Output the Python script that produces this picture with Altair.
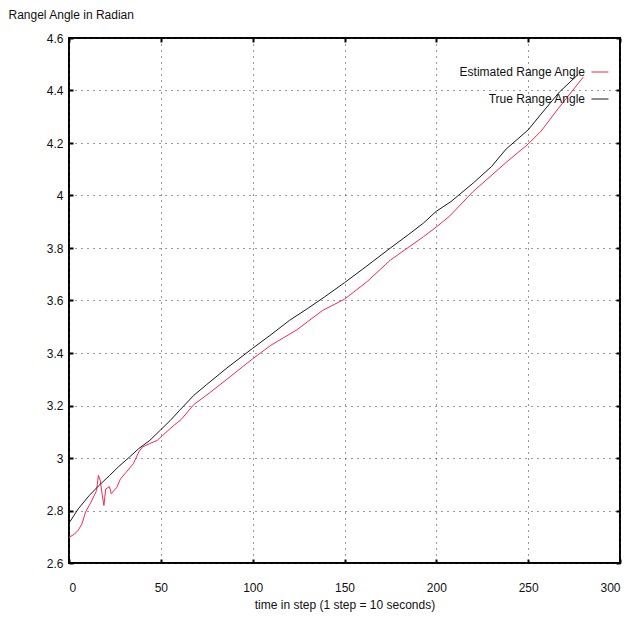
import altair as alt
import pandas as pd

true_steps = [0, 5, 11, 16, 22, 27, 33, 38, 44, 50, 55, 60, 68, 75, 86, 100, 110, 120,
              130, 139, 150, 160, 175, 185, 193, 200, 208, 220, 230, 238, 250, 257, 267, 277]
true_vals = [2.752, 2.806, 2.857, 2.893, 2.933, 2.967, 3.004, 3.036, 3.067, 3.108, 3.142,
             3.180, 3.239, 3.280, 3.343, 3.418, 3.470, 3.524, 3.570, 3.613, 3.668, 3.720,
             3.800, 3.852, 3.895, 3.940, 3.977, 4.047, 4.110, 4.177, 4.250, 4.310, 4.394, 4.460]

est_steps = [0, 3, 5, 7, 9, 12, 15, 16, 17, 18, 19, 20, 22, 23, 26, 28, 31, 35, 38, 40,
             44, 48, 51, 57, 61, 68, 75, 86, 100, 110, 124, 138, 150, 162, 175, 193, 200,
             207, 220, 238, 250, 257, 267, 280]
est_vals = [2.698, 2.710, 2.725, 2.748, 2.794, 2.832, 2.876, 2.934, 2.915, 2.864, 2.819,
            2.882, 2.891, 2.864, 2.888, 2.920, 2.945, 2.978, 3.023, 3.042, 3.055, 3.067,
            3.086, 3.124, 3.146, 3.204, 3.240, 3.300, 3.378, 3.430, 3.488, 3.562, 3.605,
            3.670, 3.754, 3.843, 3.880, 3.920, 4.015, 4.126, 4.196, 4.245, 4.337, 4.451]

series_names = ["Estimated Range Angle", "True Range Angle"]
series_colors = ["#f2294f", "#1a1a1a"]
x_ticks = [0, 50, 100, 150, 200, 250, 300]
y_ticks = [2.6, 2.8, 3.0, 3.2, 3.4, 3.6, 3.8, 4.0, 4.2, 4.4, 4.6]

df = pd.concat([
    pd.DataFrame({"step": est_steps, "angle": est_vals, "series": series_names[0]}),
    pd.DataFrame({"step": true_steps, "angle": true_vals, "series": series_names[1]}),
])

FONT = "Liberation Sans"

xscale = alt.Scale(domain=[0, 300], nice=False, zero=False)
yscale = alt.Scale(domain=[2.6, 4.6], nice=False, zero=False)

main = alt.Chart(df).mark_line(strokeWidth=1, interpolate="linear").encode(
    x=alt.X("step:Q", scale=xscale,
            axis=alt.Axis(values=x_ticks, orient="bottom", offset=-4, tickSize=4,
                          tickWidth=2, tickColor="black", domain=False,
                          grid=True, gridColor="#333333", gridDash=[1, 5], gridWidth=1,
                          labelPadding=19, labelFont=FONT, labelFontSize=12,
                          labelColor="#111111",
                          title="time in step (1 step = 10 seconds)",
                          titleFont=FONT, titleFontSize=12, titleFontWeight="normal",
                          titleColor="#111111", titlePadding=6)),
    y=alt.Y("angle:Q", scale=yscale,
            axis=alt.Axis(values=y_ticks, orient="left", offset=-4, tickSize=4,
                          tickWidth=2, tickColor="black", domain=False, format="~g",
                          grid=True, gridColor="#333333", gridDash=[1, 5], gridWidth=1,
                          labelPadding=6, labelFont=FONT, labelFontSize=12,
                          labelColor="#111111",
                          title="Rangel Angle in Radian", titleAngle=0,
                          titleAlign="left", titleBaseline="middle",
                          titleX=-65, titleY=-24,
                          titleFont=FONT, titleFontSize=12, titleFontWeight="normal",
                          titleColor="#111111")),
    color=alt.Color("series:N",
                    scale=alt.Scale(domain=series_names, range=series_colors),
                    legend=alt.Legend(orient="none", legendX=522, legendY=25,
                                      title=None, symbolType="stroke",
                                      symbolSize=289, symbolStrokeWidth=1,
                                      labelAlign="right", labelOffset={"expr": "-24"},
                                      labelFont=FONT, labelFontSize=12,
                                      labelColor="#111111", rowPadding=12,
                                      labelLimit=300)),
)

mirror = alt.Chart(df).mark_line(opacity=0).encode(
    x=alt.X("step:Q", scale=xscale,
            axis=alt.Axis(values=x_ticks, orient="top", offset=-4, tickSize=4,
                          tickWidth=2, tickColor="black", domain=False, grid=False,
                          labels=False, title=None)),
    y=alt.Y("angle:Q", scale=yscale,
            axis=alt.Axis(values=y_ticks, orient="right", offset=-4, tickSize=4,
                          tickWidth=2, tickColor="black", domain=False, grid=False,
                          labels=False, title=None)),
    detail="series:N",
)

chart = alt.layer(main, mirror).resolve_axis(x="independent", y="independent").properties(
    width=551, height=525,
    autosize=alt.AutoSizeParams(type="none"),
    padding={"left": 69, "top": 38, "right": 9, "bottom": 63},
    background="white",
).configure_view(stroke="black", strokeWidth=2)

chart.save("out.html", embed_options={"renderer": "svg", "actions": False})
